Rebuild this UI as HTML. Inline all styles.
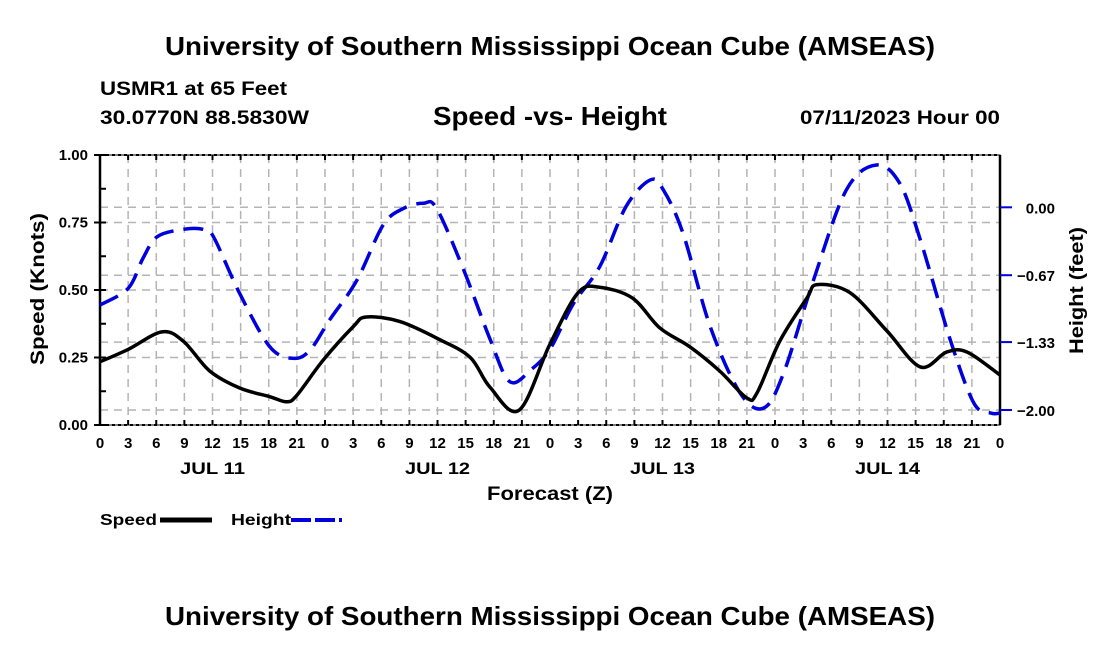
<!DOCTYPE html>
<html><head><meta charset="utf-8"><style>
body{margin:0;background:#fff;}
svg{display:block;font-family:"Liberation Sans",Arial,sans-serif;font-weight:bold;}
</style></head><body>
<svg id="c" width="1100" height="650">
<text x="165" y="55" font-size="26" textLength="770" lengthAdjust="spacingAndGlyphs">University of Southern Mississippi Ocean Cube (AMSEAS)</text>
<text x="100" y="95" font-size="19" textLength="187" lengthAdjust="spacingAndGlyphs">USMR1 at 65 Feet</text>
<text x="100" y="124" font-size="19" textLength="209" lengthAdjust="spacingAndGlyphs">30.0770N  88.5830W</text>
<text x="433" y="125" font-size="26" textLength="234" lengthAdjust="spacingAndGlyphs">Speed -vs- Height</text>
<text x="800" y="124" font-size="19" textLength="200" lengthAdjust="spacingAndGlyphs">07/11/2023 Hour 00</text>
<g id="grid"></g><g id="axes"></g><g id="series"></g>
<text x="487" y="500" font-size="19" textLength="126" lengthAdjust="spacingAndGlyphs">Forecast (Z)</text>
<text transform="translate(44,365) rotate(-90)" font-size="19" textLength="152" lengthAdjust="spacingAndGlyphs">Speed (Knots)</text>
<text transform="translate(1083,354) rotate(-90)" font-size="19" textLength="127" lengthAdjust="spacingAndGlyphs">Height (feet)</text>
<g>
<text x="100" y="525" font-size="16" textLength="57" lengthAdjust="spacingAndGlyphs">Speed</text>
<line x1="160" y1="520" x2="212" y2="520" stroke="#000" stroke-width="5"/>
<text x="231" y="525" font-size="16" textLength="60" lengthAdjust="spacingAndGlyphs">Height</text>
<line x1="291" y1="520" x2="342" y2="520" stroke="#0000dd" stroke-width="4" stroke-dasharray="20,4"/>
</g>
<text x="165" y="625" font-size="26" textLength="770" lengthAdjust="spacingAndGlyphs">University of Southern Mississippi Ocean Cube (AMSEAS)</text>
</svg>
<script>
const speedHours=[0,3,6.6,8.9,11.7,14.9,18.1,19.9,21,23.8,27,28.4,32,36.3,39.5,41.6,44.7,48,51,53.3,56.8,59.7,62.9,66.1,69,70.1,72.5,75.4,76.5,80,83.9,87.5,90.3,92.5,96];
const speedVals=[.234,.28,.345,.31,.20,.137,.105,.086,.11,.24,.364,.40,.383,.315,.25,.14,.055,.30,.49,.51,.47,.36,.29,.20,.10,.12,.31,.47,.52,.49,.35,.215,.27,.27,.185];
const heightHours=[0,3,4.6,6.1,8.9,11,12.1,14.9,18.1,20.6,22.4,24.5,27.4,30.2,32.4,34.5,35.9,38.8,41.6,43.7,46,48,50.5,53.3,56.1,58.7,60.1,62.2,65.1,68.3,70.8,72.9,76.1,79.6,82.8,85.3,87.5,90.7,93.2,95,96];
const heightVals=[-.964,-.80,-.50,-.29,-.217,-.217,-.29,-.85,-1.375,-1.49,-1.41,-1.11,-.72,-.175,-.01,.04,-.01,-.62,-1.30,-1.72,-1.6,-1.40,-.95,-.586,.006,.27,.17,-.26,-1.18,-1.835,-1.98,-1.64,-.72,.17,.417,.237,-.32,-1.31,-1.93,-2.03,-2.03];
const speedTicks=[0,0.25,0.5,0.75,1.0];
const speedTickLabels=["0.00","0.25","0.50","0.75","1.00"];
const heightTicks=[0,-0.67,-1.33,-2.0];
const heightTickLabels=["0.00","\u22120.67","\u22121.33","\u22122.00"];
const hourLabels=["0","3","6","9","12","15","18","21"];
const dayLabels=["JUL 11","JUL 12","JUL 13","JUL 14"];
const L=100,R=1000,T=155,B=425,NS="http://www.w3.org/2000/svg";
const xs=h=>L+(R-L)*h/96;
const ys=v=>B-(B-T)*v;
const yh=v=>207.3-101.35*v;
function mk(tag,attrs,parent){const e=document.createElementNS(NS,tag);for(const k in attrs)e.setAttribute(k,attrs[k]);document.getElementById(parent).appendChild(e);return e;}
for(let h=3;h<96;h+=3){const e=mk('line',{x1:xs(h),x2:xs(h),y1:T,y2:B,stroke:'#b4b4b4','stroke-width':1.5,'stroke-dasharray':'8,6'},'grid');

}
speedTicks.slice(1,4).forEach(v=>{const e=mk('line',{x1:L,x2:R,y1:ys(v),y2:ys(v),stroke:'#b4b4b4','stroke-width':1.5,'stroke-dasharray':'8,6'},'grid');

});
heightTicks.forEach(v=>{const e=mk('line',{x1:L,x2:R,y1:yh(v),y2:yh(v),stroke:'#b4b4b4','stroke-width':1.5,'stroke-dasharray':'8,6'},'grid');

});
const fr=mk('rect',{x:L,y:T,width:R-L,height:B-T,fill:'none',stroke:'#000','stroke-width':1},'axes');


[[L,T,L,B],[R,T,R,B]].forEach(a=>{const e=mk('line',{x1:a[0],y1:a[1],x2:a[2],y2:a[3],stroke:'#000','stroke-width':2.5},'axes');

});
[T,B].forEach(y=>{const e=mk('line',{x1:L,y1:y,x2:R,y2:y,stroke:'#000','stroke-width':2,'stroke-dasharray':'3,3'},'axes');

});
for(let h=0;h<=96;h+=3){[[B,B-5],[T,T+5]].forEach(p=>{const e=mk('line',{x1:xs(h),x2:xs(h),y1:p[0],y2:p[1],stroke:'#000','stroke-width':2},'axes');

});
const t=mk('text',{x:xs(h),y:448,'font-size':15,'text-anchor':'middle'},'axes');t.textContent=hourLabels[(h/3)%8];

}
dayLabels.forEach((d,i)=>{const t=mk('text',{x:xs(12+24*i),y:474,'font-size':17,'text-anchor':'middle',textLength:65,lengthAdjust:'spacingAndGlyphs'},'axes');t.textContent=d;

});
for(let v=0.125;v<1;v+=0.25){const e=mk('line',{x1:L,x2:L+6,y1:ys(v),y2:ys(v),stroke:'#000','stroke-width':2},'axes');

}
speedTicks.forEach((v,i)=>{const e=mk('line',{x1:L-6,x2:L+6,y1:ys(v),y2:ys(v),stroke:'#000','stroke-width':2},'axes');


const t=mk('text',{x:88,y:ys(v)+5,'font-size':15,'text-anchor':'end'},'axes');t.textContent=speedTickLabels[i];

});
heightTicks.forEach((v,i)=>{const e=mk('line',{x1:R,x2:R+12,y1:yh(v),y2:yh(v),stroke:'#0000dd','stroke-width':2},'axes');


const t=mk('text',{x:1055,y:yh(v)+6,'font-size':15,'text-anchor':'end'},'axes');t.textContent=heightTickLabels[i];

});
function smooth(pts){let d='M'+pts[0][0]+','+pts[0][1];for(let i=0;i<pts.length-1;i++){const p0=pts[i-1]||pts[i],p1=pts[i],p2=pts[i+1],p3=pts[i+2]||p2;
const c1=[p1[0]+(p2[0]-p0[0])/6,p1[1]+(p2[1]-p0[1])/6],c2=[p2[0]-(p3[0]-p1[0])/6,p2[1]-(p3[1]-p1[1])/6];
d+=` C${c1[0]},${c1[1]} ${c2[0]},${c2[1]} ${p2[0]},${p2[1]}`;}return d;}
const hp=mk('path',{d:smooth(heightHours.map((h,i)=>[xs(h),yh(heightVals[i])])),fill:'none',stroke:'#0000dd','stroke-width':3.5,'stroke-dasharray':'20,10'},'series');


const sp=mk('path',{d:smooth(speedHours.map((h,i)=>[xs(h),ys(speedVals[i])])),fill:'none',stroke:'#000','stroke-width':3.5},'series');


</script>
</body></html>
